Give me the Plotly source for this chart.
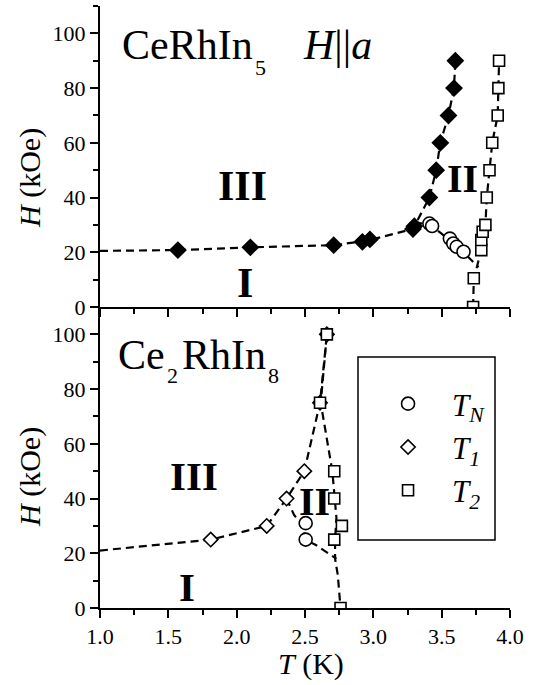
import plotly.graph_objects as go

# ---------------- data ----------------
# CeRhIn5, H || a
top_T1_T = [1.57, 2.10, 2.71, 2.92, 2.975, 3.29, 3.30, 3.41, 3.46, 3.49, 3.55, 3.59, 3.60]
top_T1_H = [20.8, 21.8, 22.6, 23.8, 24.7, 28.5, 29.5, 40, 50, 60, 70, 80, 90]
top_TN_T = [3.41, 3.43, 3.56, 3.585, 3.61, 3.66]
top_TN_H = [30.5, 29.6, 25, 23.2, 22, 20.2]
top_T2_T = [3.73, 3.735, 3.79, 3.79, 3.80, 3.82, 3.83, 3.85, 3.87, 3.91, 3.915, 3.92]
top_T2_H = [0, 10.5, 20.8, 24.5, 27.5, 30, 40, 50, 60, 70, 80, 90]

# guide lines (dashed) CeRhIn5
top_gA_T = [1.0, 1.57, 2.10, 2.71, 2.95, 3.29, 3.41, 3.46, 3.49, 3.55, 3.59, 3.60]
top_gA_H = [20.5, 20.8, 21.8, 22.6, 24.2, 28.5, 40, 50, 60, 70, 80, 90]
top_gB_T = [3.30, 3.42, 3.57, 3.66, 3.77]
top_gB_H = [31, 30, 24, 20, 14.5]
top_gC_T = [3.73, 3.735, 3.77, 3.79, 3.82, 3.83, 3.85, 3.87, 3.91, 3.915, 3.92]
top_gC_H = [0, 10, 17, 24, 30, 40, 50, 60, 70, 80, 90]

# Ce2RhIn8
bot_TN_T = [2.505, 2.505]
bot_TN_H = [31, 25]
bot_T1_T = [1.81, 2.22, 2.365, 2.495, 2.61, 2.66]
bot_T1_H = [25, 30, 40, 50, 75, 100]
bot_T2_T = [2.61, 2.66, 2.714, 2.714, 2.77, 2.714, 2.76]
bot_T2_H = [75, 100, 50, 40, 30, 25, 0]

bot_gA_T = [1.0, 1.81, 2.22, 2.365, 2.495, 2.61, 2.66]
bot_gA_H = [21, 25, 30, 40, 50, 75, 100]
bot_gB_T = [2.66, 2.615, 2.70, 2.715, 2.73, 2.72, 2.72, 2.74, 2.76]
bot_gB_H = [100, 75, 50, 40, 33, 25, 18, 12, 0]
bot_gC_T = [2.365, 2.42, 2.49, 2.50, 2.58, 2.73]
bot_gC_H = [40, 34, 30, 25, 23, 18]

x_ticks = [1.0, 1.5, 2.0, 2.5, 3.0, 3.5, 4.0]
y_ticks = [0, 20, 40, 60, 80, 100]

# ---------------- figure ----------------
FONT = "Liberation Serif"
fig = go.Figure()

dash_line = dict(color="black", width=2.2, dash="8px,5px")


def guide(T, H, xa, ya):
    fig.add_trace(go.Scatter(x=T, y=H, mode="lines", line=dash_line,
                             xaxis=xa, yaxis=ya, showlegend=False, hoverinfo="skip"))


def marks(T, H, xa, ya, symbol, size, fill, name=None, legend=False):
    fig.add_trace(go.Scatter(
        x=T, y=H, mode="markers", xaxis=xa, yaxis=ya, name=name, showlegend=legend,
        marker=dict(symbol=symbol, size=size, color=fill,
                    line=dict(color="black", width=1.6))))


# top panel (x, y)
guide(top_gA_T, top_gA_H, "x", "y")
guide(top_gB_T, top_gB_H, "x", "y")
guide(top_gC_T, top_gC_H, "x", "y")
marks(top_T2_T, top_T2_H, "x", "y", "square", 11, "white")
marks(top_TN_T, top_TN_H, "x", "y", "circle", 13, "white")
marks(top_T1_T, top_T1_H, "x", "y", "diamond", 12, "black")

# bottom panel (x2, y2)
guide(bot_gA_T, bot_gA_H, "x2", "y2")
guide(bot_gB_T, bot_gB_H, "x2", "y2")
guide(bot_gC_T, bot_gC_H, "x2", "y2")
marks(bot_TN_T, bot_TN_H, "x2", "y2", "circle", 13, "white", "<i>T<sub>N</sub></i>", True)
marks(bot_T1_T, bot_T1_H, "x2", "y2", "diamond", 11, "white", "<i>T<sub>1</sub></i>", True)
marks(bot_T2_T, bot_T2_H, "x2", "y2", "square", 11, "white", "<i>T<sub>2</sub></i>", True)

tickfont = dict(family=FONT, size=22, color="black")
common_x = dict(range=[1.0, 4.0], tickvals=x_ticks, showline=True, linecolor="black",
                linewidth=2, ticklen=8, tickwidth=2, tickcolor="black", showgrid=False,
                zeroline=False, minor=dict(dtick=0.25, ticklen=5, tickwidth=2,
                                           tickcolor="black", showgrid=False))
common_y = dict(range=[0, 110], tickvals=y_ticks, showline=True, linecolor="black",
                linewidth=2, ticklen=8, tickwidth=2, tickcolor="black", showgrid=False,
                zeroline=False, minor=dict(dtick=10, ticklen=5, tickwidth=2,
                                           tickcolor="black", showgrid=False))

top_dom = [0.5, 1.0]
bot_dom = [0.0, 0.5]

fig.update_layout(
    width=540, height=685,
    margin=dict(l=100, r=30, t=6, b=77),
    paper_bgcolor="white", plot_bgcolor="white",
    font=dict(family=FONT, color="black"),
    showlegend=True,
    # top panel
    xaxis=dict(common_x, domain=[0, 1], anchor="y", ticks="outside", showticklabels=False),
    yaxis=dict(common_y, domain=top_dom, anchor="x", ticks="outside", tickfont=tickfont),
    xaxis3=dict(common_x, overlaying="x", side="top", anchor="y", ticks="inside",
                showticklabels=False),
    yaxis3=dict(common_y, overlaying="y", side="right", anchor="x", ticks="inside",
                showticklabels=False),
    # bottom panel
    xaxis2=dict(common_x, domain=[0, 1], anchor="y2", ticks="outside", tickfont=tickfont,
                tickformat=".1f"),
    yaxis2=dict(common_y, domain=bot_dom, anchor="x2", ticks="outside", tickfont=tickfont),
    xaxis4=dict(common_x, overlaying="x2", side="top", anchor="y2", ticks="inside",
                showticklabels=False),
    yaxis4=dict(common_y, overlaying="y2", side="right", anchor="x2", ticks="inside",
                showticklabels=False),
    legend=dict(x=0.644, y=0.3837, xanchor="left", yanchor="top", bgcolor="rgba(0,0,0,0)",
                borderwidth=0, font=dict(family=FONT, size=31, color="black"),
                itemsizing="trace", itemwidth=78, tracegroupgap=0),
)

# legend frame
fig.add_shape(type="rect", xref="paper", yref="paper",
              x0=(358 - 100) / 410, x1=(495 - 100) / 410,
              y0=(608 - 540) / 602, y1=(608 - 357) / 602,
              line=dict(color="black", width=1.5), fillcolor="rgba(0,0,0,0)")


def ann(text, x, y, xref, yref, size, xanchor="center", bold=False):
    if bold:
        text = "<b>" + text + "</b>"
    fig.add_annotation(text=text, x=x, y=y, xref=xref, yref=yref, showarrow=False,
                       xanchor=xanchor, yanchor="middle",
                       font=dict(family=FONT, size=size, color="black"))


# top panel labels (formula with a lowered subscript)
ann("CeRhIn", 1.146, 95.6, "x", "y", 42, xanchor="left")
ann("5", 2.178, 87.4, "x", "y", 22)
ann("<i>H</i>||<i>a</i>", 2.737, 95.8, "x", "y", 42)
ann("III", 2.046, 44.2, "x", "y", 42, bold=True)
ann("I", 2.06, 8.8, "x", "y", 42, bold=True)
ann("II", 3.65, 47, "x", "y", 40, bold=True)

# bottom panel labels
ann("Ce", 1.117, 92.5, "x2", "y2", 42, xanchor="left")
ann("2", 1.534, 85.0, "x2", "y2", 22)
ann("RhIn", 1.585, 92.5, "x2", "y2", 42, xanchor="left")
ann("8", 2.273, 85.0, "x2", "y2", 22)
ann("III", 1.69, 48.2, "x2", "y2", 41, bold=True)
ann("I", 1.64, 7.7, "x2", "y2", 41, bold=True)
ann("II", 2.57, 39, "x2", "y2", 40, bold=True)

# axis titles
for yc in (178, 477):
    fig.add_annotation(text="<i>H</i> (kOe)", xref="paper", yref="paper",
                       x=(30 - 100) / 410, y=(608 - yc) / 602, showarrow=False, textangle=-90,
                       xanchor="center", yanchor="middle",
                       font=dict(family=FONT, size=30, color="black"))
fig.add_annotation(text="<i>T</i> (K)", xref="paper", yref="paper",
                   x=(311 - 100) / 410, y=(608 - 664) / 602, showarrow=False,
                   xanchor="center", yanchor="middle", font=dict(family=FONT, size=30, color="black"))

fig.write_html("out.html", config={"displayModeBar": False},
               post_script="document.body.style.margin='0';")
